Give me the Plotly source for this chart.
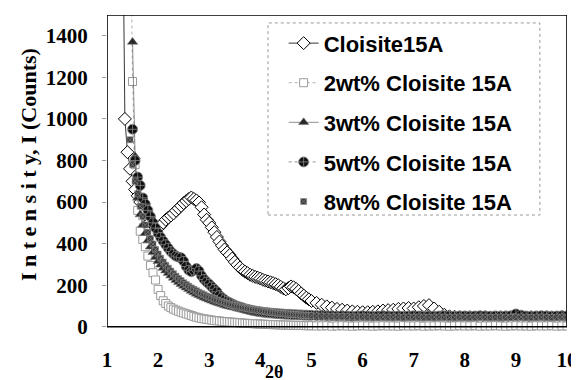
import plotly.graph_objects as go

# ---------------- data ----------------
theta_head = [1.30, 1.35, 1.40, 1.45, 1.50, 1.55, 1.60, 1.65, 1.70, 1.75,
              1.80, 1.85, 1.90, 1.95, 2.00, 2.05, 2.10, 2.15, 2.20, 2.25,
              2.30, 2.35, 2.40, 2.45, 2.50, 2.55, 2.60, 2.65, 2.70, 2.75,
              2.80, 2.85, 2.90, 2.95, 3.00, 3.05, 3.10, 3.15, 3.20, 3.25,
              3.30, 3.35, 3.40, 3.45, 3.50, 3.55, 3.60, 3.65, 3.70, 3.75,
              3.80, 3.85, 3.90, 3.95, 4.00, 4.05, 4.10, 4.15, 4.20, 4.25,
              4.30, 4.35, 4.40, 4.45, 4.50, 4.55, 4.60, 4.65, 4.70, 4.75,
              4.80, 4.85, 4.90, 4.95]
theta_tail = [5.0, 5.1, 5.2, 5.3, 5.4, 5.5, 5.6, 5.7, 5.8, 5.9,
              6.0, 6.1, 6.2, 6.3, 6.4, 6.5, 6.6, 6.7, 6.8, 6.9,
              7.0, 7.1, 7.2, 7.3, 7.4, 7.5, 7.6, 7.7, 7.8, 7.9,
              8.0, 8.1, 8.2, 8.3, 8.4, 8.5, 8.6, 8.7, 8.8, 8.9,
              9.0, 9.1, 9.2, 9.3, 9.4, 9.5, 9.6, 9.7, 9.8, 9.9,
              10.0]

c15a_head = [2200, 1000, 840, 760, 700, 660, 630, 600, 570, 545,
             525, 505, 490, 480, 478, 485, 500, 515, 525, 535,
             545, 558, 570, 582, 595, 605, 615, 622, 615, 608,
             598, 575, 540, 515, 500, 478, 455, 432, 410, 390,
             372, 358, 345, 328, 312, 298, 285, 274, 265, 258,
             250, 245, 240, 236, 232, 226, 222, 218, 214, 210,
             205, 200, 192, 185, 180, 186, 194, 190, 182, 172,
             160, 150, 140, 132]
c15a_tail = [124, 115, 106, 98, 92, 86, 82, 78, 74, 72,
             70, 70, 72, 74, 78, 80, 82, 86, 88, 90,
             88, 94, 100, 104, 88, 72, 58, 50, 48, 46,
             45, 46, 44, 45, 46, 44, 45, 46, 45, 44,
             46, 45, 44, 46, 45, 44, 46, 45, 44, 46,
             45]

wt2_head = [None, None, None, 2200, 1180, 780, 560, 460, 420, 385,
            340, 295, 260, 225, 180, 150, 125, 112, 100, 92,
            85, 80, 75, 70, 66, 62, 58, 54, 50, 46,
            43, 40, 38, 36, 34, 32, 30, 29, 28, 26,
            25, 24, 23, 22, 21, 20, 19, 18, 17, 16,
            16, 15, 14, 14, 13, 12, 12, 11, 11, 10,
            10, 9, 9, 8, 8, 8, 7, 7, 7, 6,
            6, 6, 5, 5]
wt2_tail = [5, 4, 4, 5, 3, 4, 5, 4, 3, 4,
            5, 4, 3, 4, 5, 4, 4, 3, 5, 4,
            4, 5, 3, 4, 4, 5, 4, 3, 4, 5,
            4, 4, 5, 3, 4, 4, 5, 4, 3, 4,
            5, 4, 4, 3, 5, 4, 4, 5, 3, 4,
            4]

wt3_head = [None, None, None, None, 1370, 820, 620, 540, 490, 450,
            415, 385, 358, 335, 315, 298, 283, 270, 258, 246,
            235, 224, 214, 205, 196, 188, 180, 172, 165, 158,
            152, 146, 140, 135, 130, 125, 120, 116, 112, 108,
            104, 100, 97, 94, 91, 88, 85, 82, 80, 77,
            75, 73, 71, 69, 67, 65, 63, 62, 60, 59,
            58, 56, 55, 54, 53, 52, 51, 50, 50, 49,
            48, 48, 47, 47]
wt3_tail = [46, 45, 44, 45, 43, 44, 45, 43, 42, 44,
            43, 42, 44, 43, 41, 42, 44, 43, 42, 41,
            43, 42, 44, 42, 41, 43, 42, 44, 42, 41,
            43, 42, 41, 43, 42, 44, 42, 41, 43, 42,
            44, 42, 41, 43, 42, 41, 43, 42, 44, 42,
            43]

wt5_head = [None, None, None, None, 950, 800, 720, 680, 620, 590,
            560, 530, 500, 475, 450, 430, 412, 395, 378, 362,
            350, 340, 335, 332, 315, 290, 272, 265, 272, 280,
            268, 245, 228, 215, 205, 192, 180, 168, 150, 140,
            130, 122, 116, 110, 104, 99, 95, 91, 87, 84,
            81, 78, 76, 74, 72, 70, 69, 67, 66, 65,
            64, 63, 62, 61, 60, 60, 59, 58, 58, 57,
            57, 56, 56, 55]
wt5_tail = [55, 54, 54, 53, 53, 52, 53, 52, 51, 52,
            53, 52, 51, 52, 53, 52, 51, 52, 51, 52,
            53, 52, 51, 52, 51, 52, 53, 52, 51, 52,
            52, 51, 52, 53, 52, 51, 52, 51, 52, 53,
            62, 56, 52, 51, 52, 53, 52, 51, 52, 53,
            52]

wt8_head = [None, None, None, 900, 780, 700, 640, 580, 530, 490,
            455, 425, 398, 372, 350, 330, 312, 296, 282, 268,
            255, 243, 232, 222, 212, 203, 195, 187, 180, 173,
            166, 160, 154, 148, 143, 138, 133, 128, 124, 120,
            116, 112, 108, 105, 102, 99, 96, 93, 90, 88,
            85, 83, 81, 79, 77, 75, 73, 71, 70, 68,
            67, 65, 64, 63, 62, 61, 60, 59, 58, 57,
            56, 55, 55, 54]
wt8_tail = [53, 52, 51, 50, 50, 49, 49, 48, 48, 47,
            48, 47, 47, 46, 47, 46, 47, 46, 46, 47,
            46, 47, 46, 45, 46, 47, 46, 45, 46, 47,
            46, 45, 46, 47, 46, 45, 46, 47, 46, 45,
            46, 47, 46, 45, 46, 47, 46, 45, 46, 47,
            46]

series_names = ["Cloisite15A", "2wt% Cloisite 15A", "3wt% Cloisite 15A",
                "5wt% Cloisite 15A", "8wt% Cloisite 15A"]
x_ticks = [1, 2, 3, 4, 5, 6, 7, 8, 9, 10]
y_ticks = [0, 200, 400, 600, 800, 1000, 1200, 1400]

two_theta = theta_head + theta_tail
series_y = [c15a_head + c15a_tail, wt2_head + wt2_tail, wt3_head + wt3_tail,
            wt5_head + wt5_tail, wt8_head + wt8_tail]

styles = [
    dict(mode="lines+markers",
         marker=dict(symbol="diamond", size=10, color="white",
                     line=dict(color="black", width=1)),
         line=dict(color="black", width=0.8)),
    dict(mode="lines+markers",
         marker=dict(symbol="square", size=8, color="white",
                     line=dict(color="#9a9a9a", width=1)),
         line=dict(color="#9a9a9a", width=0.8, dash="dot")),
    dict(mode="lines+markers",
         marker=dict(symbol="triangle-up", size=9, color="#2a2a2a",
                     line=dict(color="#7a7a7a", width=0.6)),
         line=dict(color="#444444", width=0.6)),
    dict(mode="lines+markers",
         marker=dict(symbol="circle-cross", size=10, color="#111111",
                     line=dict(color="#8a8a8a", width=0.8)),
         line=dict(color="#444444", width=0.6, dash="dot")),
    dict(mode="markers",
         marker=dict(symbol="square-x", size=6, color="#3a3a3a",
                     line=dict(color="#909090", width=0.6))),
]

fig = go.Figure()
for i, (name, ys) in enumerate(zip(series_names, series_y)):
    fig.add_trace(go.Scatter(x=two_theta, y=ys, name=name,
                             legendgroup=f"g{i}", connectgaps=False,
                             **styles[i]))

serif_bold = dict(family="Liberation Serif", size=21, color="black", weight="bold")

# the page body adds an 8 px offset, so the figure is 8 px smaller each way
fig.update_layout(
    width=571, height=372,
    margin=dict(l=99, r=12, t=7, b=47),
    paper_bgcolor="white", plot_bgcolor="white",
    showlegend=True,
    xaxis=dict(range=[1, 10], tickvals=x_ticks, ticktext=[str(v) for v in x_ticks],
               showgrid=False, zeroline=False, showline=False, ticks="",
               automargin=False,
               tickfont=serif_bold, ticklabelstandoff=12),
    yaxis=dict(range=[-30, 1500], tickvals=y_ticks,
               showgrid=False, zeroline=False, showline=False,
               ticks="outside", ticklen=4, tickcolor="#9a9a9a",
               automargin=False,
               tickfont=serif_bold, ticklabelstandoff=10),
    legend=dict(x=0.384, y=0.977, xanchor="left", yanchor="top",
                bgcolor="rgba(0,0,0,0)", borderwidth=0,
                font=dict(family="Liberation Sans", size=22, color="black", weight="bold"),
                tracegroupgap=8),
    shapes=[
        dict(type="rect", xref="x", yref="y", x0=1, x1=10, y0=0, y1=1500,
             line=dict(color="black", width=1.6), layer="above"),
        dict(type="rect", xref="paper", yref="paper", x0=0.35, x1=0.941,
             y0=0.371, y1=0.975, line=dict(color="#9a9a9a", width=1, dash="dot")),
    ],
    annotations=[
        dict(text="I n t e n s i t y, I (Counts)", xref="paper", yref="paper",
             x=-0.172, y=0.531, xanchor="center", yanchor="middle",
             textangle=-90, showarrow=False,
             font=dict(family="Liberation Serif", size=22, color="black", weight="bold")),
        dict(text="2θ", xref="paper", yref="paper", x=0.363, y=-0.122,
             xanchor="center", yanchor="middle", showarrow=False,
             font=dict(family="Liberation Serif", size=18, color="black", weight="bold")),
    ],
)

fig.write_html("out.html")
